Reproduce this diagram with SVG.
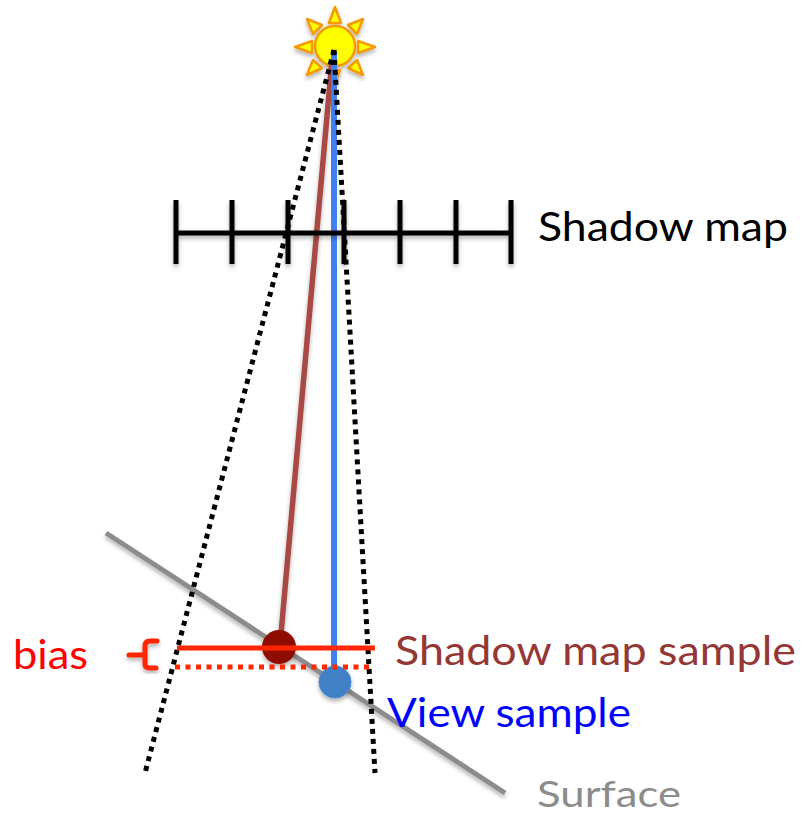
<svg xmlns="http://www.w3.org/2000/svg" width="802" height="815" viewBox="0 0 802 815">
<style>
text{font-family:"Lato","Open Sans","Liberation Sans",sans-serif;font-size:40px}
.ray{fill:#ffff00;stroke:#f59a00;stroke-width:2.5;stroke-linejoin:round}
.tick{stroke:#000;stroke-width:5;fill:none}
.dot{stroke:#000;stroke-width:5;stroke-dasharray:5 5;fill:none}
.red{stroke:#ff2600;fill:none}
</style>
<defs>
<filter id="sh" x="-20%" y="-20%" width="140%" height="140%">
<feDropShadow dx="0" dy="3" stdDeviation="2" flood-color="#000" flood-opacity=".3"/>
</filter>
</defs>
<g id="sun" filter="url(#sh)">
<polygon class="ray" points="335,7 329,23 341,23"/>
<polygon class="ray" points="375,47 358,41 358,53"/>
<polygon class="ray" points="295,47 312,41 312,53"/>
<polygon class="ray" points="363,19 348,25 357,34"/>
<polygon class="ray" points="307,19 322,25 313,34"/>
<polygon class="ray" points="363,75 348,68 357,60"/>
<polygon class="ray" points="307,75 322,68 313,60"/>
<polygon class="ray" points="335,84 330,70 340,70"/>
<circle cx="335" cy="46" r="20" fill="#ffff00" stroke="#f59a00" stroke-width="2.5"/>
</g>
<g id="connectors">
<line x1="106" y1="533" x2="505" y2="793" stroke="#8c8c8c" stroke-width="5" filter="url(#sh)"/>
<line x1="332" y1="60" x2="280" y2="645" stroke="#a94a45" stroke-width="5.5" filter="url(#sh)"/>
<line x1="334" y1="52" x2="334" y2="680" stroke="#3f7ff0" stroke-width="6"/>
</g>
<g id="shadow-map" filter="url(#sh)">
<path class="tick" d="M176 233H511M176 200V264M232 200V264M288 200V264M344 200V264M400 200V264M456 200V264M511 200V264"/>
</g>
<g id="frustum">
<line class="dot" x1="334" y1="50" x2="145" y2="773"/>
<line class="dot" x1="334" y1="50" x2="375" y2="773"/>
</g>
<g id="shadow-map-sample">
<circle cx="279" cy="647" r="17" fill="#8f1100" filter="url(#sh)"/>
<line class="red" x1="177" y1="648" x2="375" y2="648" stroke-width="5"/>
</g>
<g id="view-sample">
<circle cx="335" cy="682" r="16" fill="#3f80c4" stroke="#4a8ad0" stroke-width="1" filter="url(#sh)"/>
<line class="red" x1="175" y1="667" x2="373" y2="667" stroke-width="5" stroke-dasharray="5 5.5"/>
</g>
<g id="bias">
<path class="red" stroke-width="5" stroke-linecap="round" d="M157 641H150Q145 641 145 646V664Q145 668 150 668H156M129 655H145" filter="url(#sh)"/>
<text x="13" y="669" fill="#ff0000" textLength="75" lengthAdjust="spacingAndGlyphs">bias</text>
</g>
<g id="labels">
<text x="538" y="241" fill="#000" textLength="250" lengthAdjust="spacingAndGlyphs">Shadow map</text>
<text x="395" y="665" fill="#953735" textLength="401" lengthAdjust="spacingAndGlyphs">Shadow map sample</text>
<text x="387" y="727" fill="#0000ff" textLength="244" lengthAdjust="spacingAndGlyphs">View sample</text>
<text x="537" y="807" fill="#8c8c8c" font-size="37" style="font-size:37px" textLength="144" lengthAdjust="spacingAndGlyphs">Surface</text>
</g>
</svg>
